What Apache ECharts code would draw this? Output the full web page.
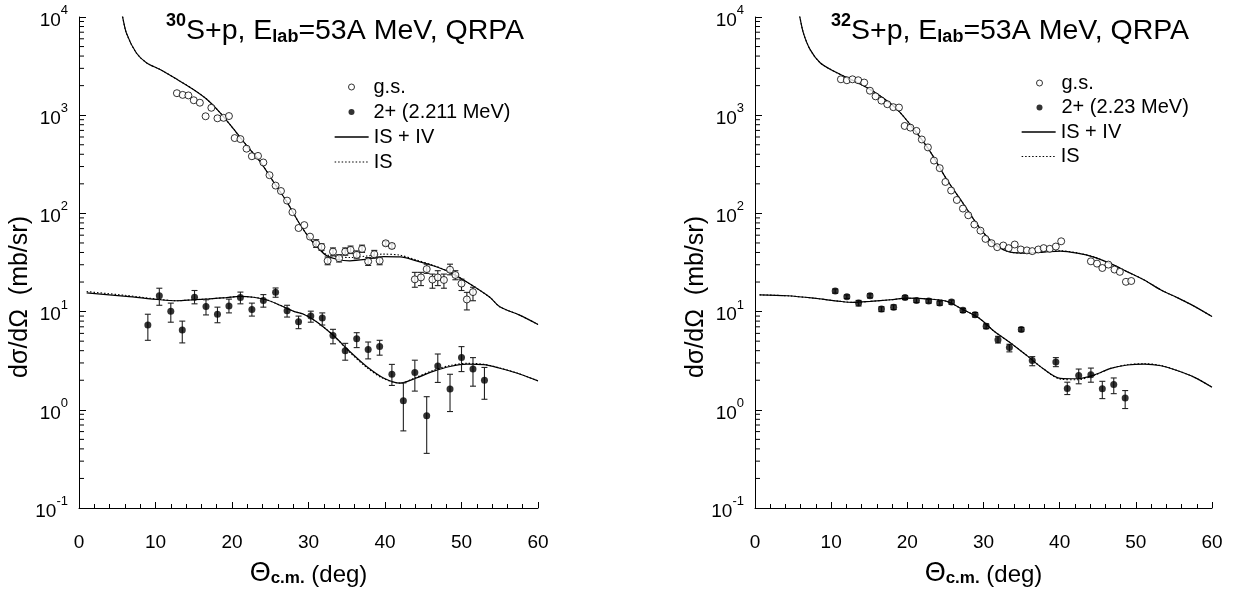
<!DOCTYPE html>
<html>
<head>
<meta charset="utf-8">
<script src="https://cdn.jsdelivr.net/npm/echarts@6/dist/echarts.min.js"></script>
<style>
html,body{margin:0;padding:0;background:#fff;}
#chart{width:1240px;height:592px;}
</style>
</head>
<body>
<div id="chart"></div>
<script>
// ---------------- DATA ----------------
const xTickValues = [0, 10, 20, 30, 40, 50, 60];
const logMinorTicks = [0.2,0.3,0.4,0.5,0.6,0.7,0.8,0.9, 2,3,4,5,6,7,8,9, 20,30,40,50,60,70,80,90, 200,300,400,500,600,700,800,900, 2000,3000,4000,5000,6000,7000,8000,9000];

// 30S + p : ground state (open circles)
const gs30Angle = [12.8,13.55,14.3,15.0,15.8,16.55,17.3,18.1,18.9,19.6,20.35,21.1,21.9,22.6,23.4,24.1,24.9,25.7,26.4,27.2,27.9,28.7,29.45,30.2,
  31.0,31.7,32.5,33.2,34.0,34.8,35.5,36.3,37.0,37.8,38.6,39.3,40.1,40.9,
  43.9,44.7,45.45,46.2,46.9,47.7,48.5,49.2,50.0,50.7,51.5];
const gs30Sigma = [1675,1610,1590,1420,1340,975,1190,930,940,980,585,571,456,382,385,330,245,192,169,135,103,71,76,58,
  49.2,45.5,32.9,40.8,34.9,40.8,42.5,37.8,43.5,32.4,38.4,32.9,49.6,46.6,
  21.3,22.3,27.1,21.2,22.3,21.0,26.7,23.6,19.3,13.3,15.8];
const gs30ErrLow = [null,null,null,null,null,null,null,null,null,null,null,null,null,null,null,null,null,null,null,null,null,null,null,null,
  45,42,30,37,32,37.5,39,34.5,40,29.5,35,30,47,44,
  17.7,18.4,24.5,17.3,18.4,17.3,23.7,21.1,16.4,10.4,12.9];
const gs30ErrHigh = [null,null,null,null,null,null,null,null,null,null,null,null,null,null,null,null,null,null,null,null,null,null,null,null,
  54,49,36,44.5,38,44.5,46.5,41.5,47.5,35.5,42,36,52,49,
  25.1,25.1,30.4,24.1,26.1,24.1,30.4,26.1,21.4,15.7,17.7];

// 30S + p : 2+ (2.211 MeV) (filled circles)
const ex30Angle = [9.0,10.5,12.0,13.5,15.1,16.6,18.1,19.6,21.1,22.6,24.1,25.7,27.2,28.7,30.3,31.8,33.2,34.8,36.3,37.8,39.3,40.9,42.4,43.9,45.45,46.9,48.5,50.0,51.5,53.0];
const ex30Sigma = [7.3,14.5,10.1,6.5,14.0,11.3,9.4,11.4,13.9,10.5,13.0,15.7,10.2,7.9,9.0,8.6,5.7,4.0,5.3,4.1,4.4,2.3,1.24,2.4,0.87,2.8,1.63,3.4,2.6,2.0];
const ex30ErrLow = [5.1,11.6,7.8,4.8,12.0,9.25,7.7,9.7,12.0,9.0,11.1,14.0,8.8,6.7,7.8,7.3,4.7,3.2,4.3,3.3,3.6,1.77,0.61,1.55,0.36,1.9,0.96,2.45,1.74,1.28];
const ex30ErrHigh = [9.4,17.3,12.2,8.0,16.4,13.2,11.1,13.4,15.8,12.2,14.9,17.4,11.6,9.0,10.1,9.7,6.6,4.75,6.1,4.9,5.1,2.9,1.88,3.2,1.36,3.7,2.3,4.4,3.4,2.7];

// 30S + p : calculations
const th30gsAngle = [5.2,5.6,6.2,7.5,8.85,10.6,12.8,14.9,16.7,18.4,20.2,21.9,23.7,25.4,27.15,28.9,30.2,31.3,32.4,33.7,35.4,37.6,39.8,42.0,44.1,46.3,48.5,50.7,53.7,55.0,57.6,60.0];
const th30gsFull  = [15000,10960,6850,4300,3410,2920,2320,1840,1455,1070,724,493,335,211,132,77,55,44,37,34.1,32.9,34.1,36.3,36.1,32.9,29.3,25.1,20.0,14.0,11.2,9.2,7.4];
const th30gsIS    = [15000,10960,6850,4300,3410,2920,2320,1840,1455,1070,724,493,335,211,132,77,55,44.5,38,36.5,35.5,36.8,38.5,37.5,33.5,29.6,25.2,20.0,14.0,11.2,9.2,7.4];
const th30exAngle = [1,6.2,10.6,12.8,14.9,17.1,19.3,21.0,22.8,24.5,26.3,28.0,29.5,31.1,33.2,35.4,37.6,39.8,42.0,44.1,46.3,48.5,50.7,52.9,55.0,57.2,60.0];
const th30exFull  = [15.5,14.3,13.2,12.9,13.2,13.5,13.9,14.3,14.0,13.2,11.6,10.1,9.3,7.85,5.77,3.92,2.76,2.11,1.87,2.11,2.46,2.76,2.92,2.88,2.65,2.37,1.97];
const th30exIS    = [16.0,14.6,13.3,12.9,13.2,13.5,13.9,14.3,14.0,13.2,11.6,10.1,9.3,7.85,5.77,3.85,2.70,2.08,1.87,2.15,2.52,2.83,2.97,2.91,2.67,2.38,1.97];

// 32S + p : ground state (open circles)
const gs32Angle = [11.28,12.06,12.8,13.55,14.34,15.09,15.83,16.6,17.37,18.16,18.9,19.65,20.4,21.2,21.9,22.7,23.5,24.25,25.0,25.75,26.5,27.3,28.0,28.8,29.6,
  30.26,31.05,31.8,32.6,33.3,34.1,34.9,35.7,36.4,37.2,37.9,38.7,39.5,40.2,
  44.1,44.9,45.6,46.4,47.2,47.9,48.7,49.4];
const gs32Sigma = [2320,2270,2320,2270,2150,1775,1556,1407,1294,1207,1197,777,747,692,566,470,345,289,209,171,137,112,95.7,77.1,66.7,
  55,49.7,45.3,47.1,44.3,48.2,42.9,42.0,41.3,42.9,44.3,43.6,46.0,52,
  32.5,30.8,27.8,30.1,26.8,25.4,20.1,20.5];

// 32S + p : 2+ (2.23 MeV) (filled circles)
const ex32Angle = [10.53,12.06,13.6,15.1,16.6,18.2,19.7,21.2,22.8,24.25,25.8,27.3,28.9,30.35,31.9,33.4,34.96,36.4,39.5,41.0,42.5,44.1,45.6,47.1,48.6];
const ex32Sigma = [16.2,14.2,12.2,14.5,10.6,11.1,13.9,13.0,12.8,12.2,12.5,10.3,9.3,7.1,5.17,4.3,6.58,3.18,3.06,1.65,2.23,2.28,1.64,1.81,1.32];
const ex32ErrLow = [15.4,13.6,11.4,13.8,10.0,10.5,13.3,12.4,12.2,11.6,11.9,9.8,8.8,6.7,4.79,3.89,6.3,2.81,2.75,1.43,1.84,1.91,1.30,1.46,1.03];
const ex32ErrHigh = [17.0,14.8,13.0,15.2,11.2,11.7,14.5,13.6,13.4,12.8,13.1,10.8,9.8,7.5,5.6,4.65,6.9,3.48,3.4,1.91,2.6,2.66,1.95,2.11,1.57];

// 32S + p : calculations
const th32gsAngle = [5.5,5.83,6.36,7.24,8.55,10.3,12.06,14.25,16.4,18.6,20.8,23.0,25.2,27.4,29.4,31.4,33.55,35.75,37.9,40.1,42.3,44.5,46.7,48.9,51.1,53.3,55.5,57.7,60.0];
const th32gsFull  = [14000,10500,6855,4656,3420,2818,2415,1991,1578,1159,729,426,220,124,73,48.9,40.4,39.4,40.4,41.3,39.4,35.9,30.8,25.4,21.0,16.6,13.8,11.3,8.9];
const th32gsIS    = [14000,10500,6855,4656,3420,2818,2415,1991,1578,1159,729,426,220,124,73,48.9,40.4,39.4,40.6,41.6,39.6,36.0,30.8,25.4,21.0,16.6,13.8,11.3,8.9];
const th32exAngle = [0.6,4.2,7.7,11.2,12.9,15.1,17.8,20.0,23.0,25.2,27.2,29.4,31.4,33.55,35.75,37.9,40.1,42.3,44.5,46.7,48.9,51.1,53.3,55.5,57.7,60.0];
const th32exFull  = [14.8,14.5,13.7,12.7,12.4,12.7,13.2,13.7,13.4,12.7,10.6,8.6,6.3,4.8,3.54,2.6,2.09,2.07,2.26,2.64,2.86,2.92,2.81,2.5,2.14,1.7];
const th32exIS    = [14.8,14.5,13.7,12.7,12.4,12.7,13.2,13.7,13.4,12.7,10.6,8.6,6.3,4.8,3.54,2.6,2.05,2.02,2.24,2.64,2.88,2.95,2.83,2.5,2.14,1.7];

// ---------------- HELPERS ----------------
const FONT = 'Liberation Sans, Arial, Helvetica, sans-serif';
const zip2 = (a, b) => a.map((v, i) => [v, b[i]]);
const zipErr = (a, lo, hi) => a.map((v, i) => [v, lo[i], hi[i]]).filter(d => d[1] != null && d[2] != null);

function errRender(params, api) {
  const x = api.value(0), lo = api.value(1), hi = api.value(2);
  const pLo = api.coord([x, lo]);
  const pHi = api.coord([x, hi]);
  const w = 3;
  const st = { stroke: '#222', lineWidth: 1.1 };
  return { type: 'group', children: [
    { type: 'line', shape: { x1: pLo[0], y1: pLo[1], x2: pHi[0], y2: pHi[1] }, style: st },
    { type: 'line', shape: { x1: pLo[0] - w, y1: pLo[1], x2: pLo[0] + w, y2: pLo[1] }, style: st },
    { type: 'line', shape: { x1: pHi[0] - w, y1: pHi[1], x2: pHi[0] + w, y2: pHi[1] }, style: st }
  ]};
}
function minorTickRender(params, api) {
  const p = api.coord([api.value(0), api.value(1)]);
  return { type: 'line', shape: { x1: p[0], y1: p[1], x2: p[0] + 5, y2: p[1] },
    style: { stroke: '#000', lineWidth: 1 } };
}

const grids = [
  { left: 79, top: 17, width: 459, height: 496 },
  { left: 755, top: 17, width: 457, height: 496 }
];

function makeXAxis(gi) {
  return {
    type: 'value', gridIndex: gi, min: 0, max: 60, interval: 10,
    axisLine: { lineStyle: { color: '#000', width: 1 } },
    axisTick: { inside: true, length: 6, lineStyle: { color: '#000' } },
    minorTick: { show: true, splitNumber: 5, length: 4, lineStyle: { color: '#000' } },
    splitLine: { show: false },
    axisLabel: { fontSize: 19, color: '#000', fontFamily: FONT, margin: 25 },
    name: '{th|Θ}{s|c.m.}{t| (deg)}',
    nameLocation: 'middle', nameGap: 49,
    nameTextStyle: {
      rich: {
        th: { fontSize: 27, fontFamily: FONT, color: '#000', lineHeight: 30, verticalAlign: 'bottom' },
        t: { fontSize: 24, fontFamily: FONT, color: '#000', lineHeight: 30, verticalAlign: 'bottom' },
        s: { fontSize: 17, fontWeight: 'bold', fontFamily: FONT, color: '#000', lineHeight: 22, verticalAlign: 'bottom' }
      }
    }
  };
}
function makeYAxis(gi) {
  return {
    type: 'log', logBase: 10, gridIndex: gi, min: 0.1, max: 10000, splitNumber: 5,
    axisLine: { show: true, lineStyle: { color: '#000', width: 1 } },
    axisTick: { inside: true, length: 7, lineStyle: { color: '#000' } },
    splitLine: { show: false },
    axisLabel: {
      margin: 11, color: '#000',
      formatter: v => '{b|10}{e|' + Math.round(Math.log10(v)) + '}',
      rich: {
        b: { fontSize: 19, fontFamily: FONT, color: '#000', lineHeight: 26, verticalAlign: 'bottom' },
        e: { fontSize: 13, fontFamily: FONT, color: '#000', lineHeight: 12, verticalAlign: 'top' }
      }
    }
  };
}

const titleRich = {
  sup: { fontSize: 18, fontWeight: 'bold', fontFamily: FONT, color: '#000', lineHeight: 14, verticalAlign: 'top' },
  b:   { fontSize: 28.5, fontWeight: 'normal', fontFamily: FONT, color: '#000', lineHeight: 34, verticalAlign: 'bottom' },
  sub: { fontSize: 18, fontWeight: 'bold', fontFamily: FONT, color: '#000', lineHeight: 22, verticalAlign: 'bottom' }
};

const openCircle = { color: '#fff', borderColor: '#000', borderWidth: 1 };
const fullCircle = { color: '#000', borderColor: '#000', borderWidth: 0 };

function panelSeries(gi, gsA, gsS, gsLo, gsHi, exA, exS, exLo, exHi, thGsA, thGsF, thGsI, thExA, thExF, thExI, exName) {
  const ax = { xAxisIndex: gi, yAxisIndex: gi };
  const s = [];
  s.push(Object.assign({ type: 'custom', renderItem: minorTickRender, silent: true, clip: false, z: 1,
    data: logMinorTicks.map(v => [0, v]), encode: { x: 0, y: 1 } }, ax));
  s.push(Object.assign({ name: 'IS', type: 'line', data: zip2(thGsA, thGsI), symbol: 'none', showSymbol: false, smooth: 0.3,
    lineStyle: { color: '#000', width: 1.1, type: [1.5, 2] }, itemStyle: { color: '#000' }, z: 2, silent: true }, ax));
  s.push(Object.assign({ name: 'IS', type: 'line', data: zip2(thExA, thExI), symbol: 'none', showSymbol: false, smooth: 0.3,
    lineStyle: { color: '#000', width: 1.1, type: [1.5, 2] }, itemStyle: { color: '#000' }, z: 2, silent: true }, ax));
  s.push(Object.assign({ name: 'IS + IV', type: 'line', data: zip2(thGsA, thGsF), symbol: 'none', showSymbol: false, smooth: 0.3,
    lineStyle: { color: '#000', width: 1.2 }, itemStyle: { color: '#000' }, z: 3, silent: true }, ax));
  s.push(Object.assign({ name: 'IS + IV', type: 'line', data: zip2(thExA, thExF), symbol: 'none', showSymbol: false, smooth: 0.3,
    lineStyle: { color: '#000', width: 1.2 }, itemStyle: { color: '#000' }, z: 3, silent: true }, ax));
  if (gsLo) {
    s.push(Object.assign({ type: 'custom', renderItem: errRender, silent: true, z: 4,
      data: zipErr(gsA, gsLo, gsHi), encode: { x: 0, y: [1, 2] } }, ax));
  }
  if (exLo) {
    s.push(Object.assign({ type: 'custom', renderItem: errRender, silent: true, z: 4,
      data: zipErr(exA, exLo, exHi), encode: { x: 0, y: [1, 2] } }, ax));
  }
  s.push(Object.assign({ name: 'g.s.', type: 'scatter', data: zip2(gsA, gsS), symbol: 'circle', symbolSize: 7,
    itemStyle: openCircle, z: 5, silent: true }, ax));
  s.push(Object.assign({ name: exName, type: 'scatter', data: zip2(exA, exS), symbol: 'circle', symbolSize: 7,
    itemStyle: fullCircle, z: 5, silent: true }, ax));
  return s;
}

const series = [].concat(
  panelSeries(0, gs30Angle, gs30Sigma, gs30ErrLow, gs30ErrHigh, ex30Angle, ex30Sigma, ex30ErrLow, ex30ErrHigh,
    th30gsAngle, th30gsFull, th30gsIS, th30exAngle, th30exFull, th30exIS, '2+ (2.211 MeV)'),
  panelSeries(1, gs32Angle, gs32Sigma, null, null, ex32Angle, ex32Sigma, ex32ErrLow, ex32ErrHigh,
    th32gsAngle, th32gsFull, th32gsIS, th32exAngle, th32exFull, th32exIS, '2+ (2.23 MeV)')
);

const legendText = { fontSize: 20, fontFamily: FONT, color: '#000', lineHeight: 20 };
function pointLegend(left, top, exName, gap) {
  return {
    orient: 'vertical', left: left, top: top, padding: 0, itemGap: gap,
    itemWidth: 34, itemHeight: 6, selectedMode: false,
    textStyle: legendText,
    data: [
      { name: 'g.s.', itemStyle: { color: '#fff', borderColor: '#000', borderWidth: 1 } },
      { name: exName }
    ]
  };
}
function lineLegend(left, top, gap) {
  return {
    orient: 'vertical', left: left, top: top, padding: 0, itemGap: gap,
    itemWidth: 34, itemHeight: 6, selectedMode: false, textStyle: legendText,
    data: [
      { name: 'IS + IV', itemStyle: { opacity: 0 }, lineStyle: { color: '#000', width: 1.3, opacity: 1 } },
      { name: 'IS', itemStyle: { opacity: 0 }, lineStyle: { color: '#000', width: 1.2, type: [1.5, 2], opacity: 1 } }
    ]
  };
}

const option = {
  animation: false,
  backgroundColor: '#fff',
  grid: grids,
  xAxis: [makeXAxis(0), makeXAxis(1)],
  yAxis: [makeYAxis(0), makeYAxis(1)],
  title: [
    { text: '{sup|30}{b|S+p, E}{sub|lab}{b|=53A MeV, QRPA}', left: 166, top: 12, padding: 0,
      textStyle: { rich: titleRich } },
    { text: '{sup|32}{b|S+p, E}{sub|lab}{b|=53A MeV, QRPA}', left: 831, top: 12, padding: 0,
      textStyle: { rich: titleRich } }
  ],
  legend: [
    pointLegend(348, 77, '2+ (2.211 MeV)', 5),
    lineLegend(334, 127, 5),
    pointLegend(1036, 73, '2+ (2.23 MeV)', 4.5),
    lineLegend(1021, 122, 4.5)
  ],
  graphic: [
    { type: 'text', x: 20, y: 297, rotation: Math.PI / 2,
      style: { text: 'dσ/dΩ  (mb/sr)', fontSize: 25, fontFamily: FONT, fill: '#000', align: 'center', verticalAlign: 'middle' } },
    { type: 'text', x: 696, y: 297, rotation: Math.PI / 2,
      style: { text: 'dσ/dΩ  (mb/sr)', fontSize: 25, fontFamily: FONT, fill: '#000', align: 'center', verticalAlign: 'middle' } }
  ],
  series: series
};

const chart = echarts.init(document.getElementById('chart'), null, { renderer: 'canvas' });
chart.setOption(option);
</script>
</body>
</html>
